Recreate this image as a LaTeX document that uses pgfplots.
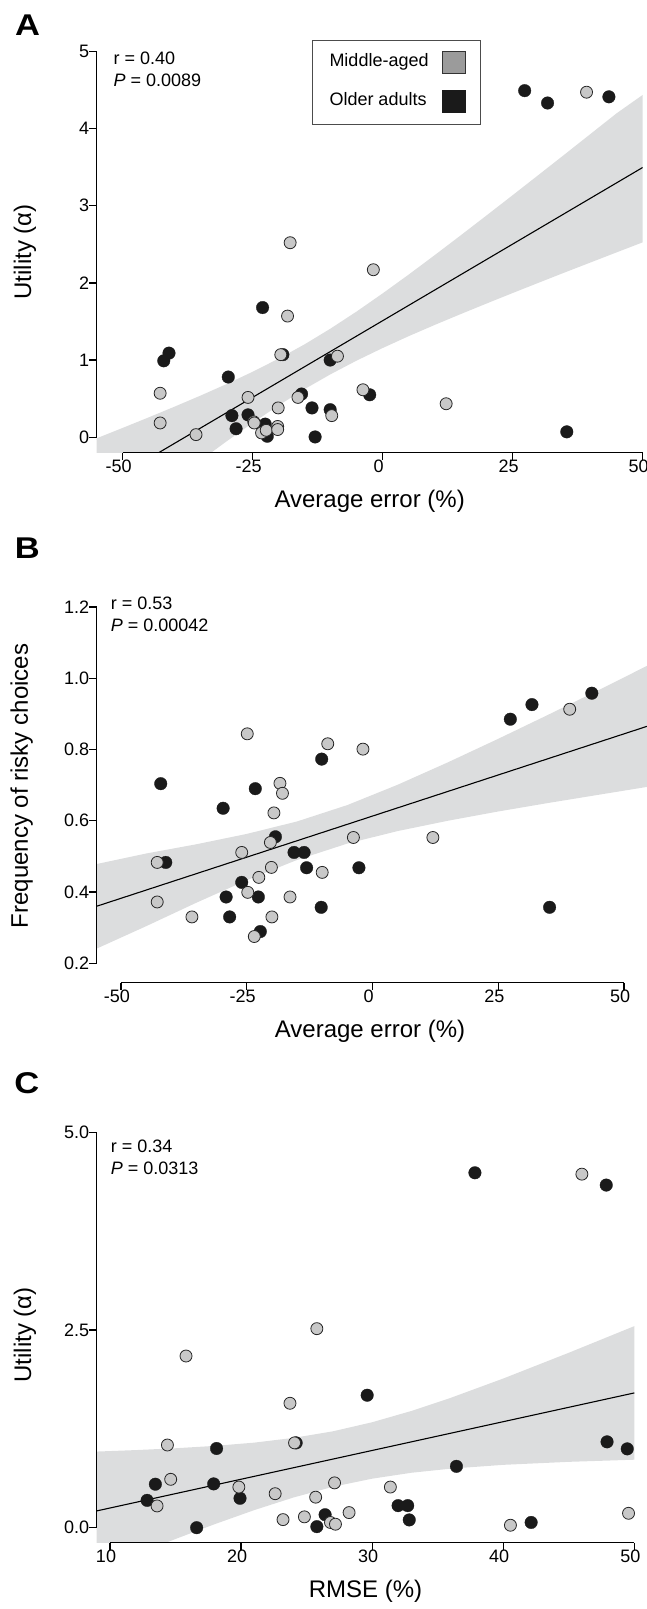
\documentclass[border=0pt]{standalone}
\usepackage{fontspec}
\setmainfont{Liberation Sans}
\usepackage{pgfplots}
\pgfplotsset{compat=1.18}
\definecolor{ptgray}{RGB}{200,200,200}
\definecolor{ptblack}{RGB}{26,26,26}
\definecolor{bandgray}{RGB}{220,221,222}
\definecolor{leggray}{RGB}{155,155,155}
\pgfplotsset{
  panel/.style={
    scale only axis,
    clip mode=individual,
    axis x line*=bottom, axis y line*=left,
    axis line style={draw=none},
    tick align=outside,
    major tick length=7.3pt,
    tick style={black, line width=1.3pt},
    tick label style={font=\fontsize{18}{20}\selectfont},
    xticklabel style={inner sep=0pt, anchor=north, xshift=-4pt},
    yticklabel style={inner sep=0pt, anchor=east},
    minor tick num=0,
  },
  gpts/.style={only marks, mark=*, mark size=6pt, mark options={fill=ptgray, draw=black!85, line width=0.8pt}},
  bpts/.style={only marks, mark=*, mark size=6.3pt, mark options={fill=ptblack, draw=ptblack, line width=0.3pt}},
  band/.style={fill=bandgray, draw=none},
  fit/.style={black, line width=1.1pt},
}
\begin{document}
\begin{tikzpicture}
% ---------------- Panel A ----------------
\begin{axis}[panel, at={(96.7pt,1156.3pt)}, anchor=south west,
  width=546pt, height=401.4pt,
  xmin=-55, xmax=50, ymin=-0.2, ymax=5,
  xtick={-50,-25,0,25,50}, xticklabels={-50,-25,0,25,50},
  ytick={0,1,2,3,4,5}, yticklabels={0,1,2,3,4,5}]
\addplot[band] coordinates {(-55,-0.0135) (-50,0.121) (-45,0.2575) (-40,0.397) (-35,0.5405) (-30,0.690) (-25,0.8485) (-20,1.019) (-15,1.2045) (-10,1.409) (-5,1.6295) (0,1.864) (5,2.1075) (10,2.359) (15,2.6155) (20,2.875) (25,3.1365) (30,3.400) (35,3.6645) (40,3.931) (45,4.1975) (50,4.435)
 (50,2.525) (45,2.3955) (40,2.265) (35,2.1345) (30,2.002) (25,1.8685) (20,1.733) (15,1.5955) (10,1.455) (5,1.3095) (0,1.156) (-5,0.9935) (-10,0.817) (-15,0.6245) (-20,0.413) (-25,0.1865) (-30,-0.052) (-35,-0.2995) (-40,-0.553) (-45,-0.8105) (-50,-1.071) (-55,-1.3335)} -- cycle;
\addplot[fit] coordinates {(-55,-0.6735) (50,3.495)};
\addplot[bpts] coordinates {(-42.1,0.99) (-41.1,1.09) (-29.7,0.78) (-29.0,0.28) (-28.2,0.11) (-25.9,0.29) (-23.1,1.68) (-22.6,0.17) (-22.2,0.013) (-19.2,1.07) (-15.6,0.56) (-13.6,0.38) (-13.0,0.004) (-10.1,1.0) (-10.1,0.357) (-2.5,0.55) (35.4,0.07) (27.3,4.49) (31.7,4.33) (43.5,4.41)};
\addplot[gpts] coordinates {(-42.8,0.57) (-42.8,0.185) (-35.9,0.034) (-25.9,0.516) (-24.8,0.20) (-24.7,0.185) (-23.3,0.056) (-22.4,0.09) (-20.2,0.14) (-20.2,0.10) (-20.1,0.38) (-17.8,2.52) (-18.3,1.57) (-19.6,1.07) (-16.3,0.516) (-8.7,1.05) (-9.8,0.28) (-3.8,0.615) (-1.8,2.17) (12.2,0.434) (39.2,4.47)};
\draw[line width=1.3pt] (axis cs:-55,0) -- (axis cs:-55,5);
\draw[line width=1.3pt] (axis cs:-50,-0.2) -- (axis cs:50,-0.2);
\end{axis}
% ---------------- Panel B ----------------
\begin{axis}[panel, at={(96.7pt,626.3pt)}, anchor=south west,
  width=550.3pt, height=375.7pt,
  xmin=-54.83, xmax=54.57, ymin=0.1454, ymax=1.2,
  xtick={-50,-25,0,25,50}, xticklabels={-50,-25,0,25,50},
  ytick={0.2,0.4,0.6,0.8,1.0,1.2}, yticklabels={0.2,0.4,0.6,0.8,1.0,1.2}]
\addplot[band] coordinates {(-55,0.478) (-45,0.508) (-35,0.534) (-25,0.563) (-15,0.598) (-5,0.644) (5,0.701) (15,0.764) (25,0.830) (35,0.898) (45,0.967) (54.6,1.035)
 (54.6,0.695) (45,0.673) (35,0.650) (25,0.626) (15,0.600) (5,0.571) (-5,0.536) (-15,0.490) (-25,0.433) (-35,0.370) (-45,0.304) (-55,0.240)} -- cycle;
\addplot[fit] coordinates {(-54.83,0.360) (54.57,0.865)};
\addplot[bpts] coordinates {(-42.1,0.704) (-41.1,0.483) (-29.7,0.635) (-29.1,0.386) (-28.4,0.330) (-26.0,0.427) (-23.3,0.690) (-22.7,0.386) (-22.3,0.289) (-19.3,0.555) (-15.6,0.511) (-13.6,0.511) (-13.1,0.468) (-10.1,0.773) (-10.2,0.357) (-2.7,0.468) (27.4,0.885) (31.7,0.926) (35.2,0.357) (43.6,0.958)};
\addplot[gpts] coordinates {(-42.8,0.483) (-42.8,0.372) (-35.9,0.330) (-26.0,0.511) (-24.9,0.844) (-24.8,0.399) (-23.5,0.275) (-22.6,0.441) (-20.3,0.539) (-20.1,0.469) (-20.0,0.330) (-19.6,0.622) (-18.4,0.705) (-17.9,0.677) (-16.4,0.386) (-10.0,0.455) (-8.9,0.816) (-3.8,0.553) (-1.9,0.801) (12.0,0.553) (39.2,0.913)};
\draw[line width=1.3pt] (axis cs:-54.83,0.2) -- (axis cs:-54.83,1.2);
\draw[line width=1.3pt] (axis cs:-50,0.1454) -- (axis cs:50,0.1454);
\end{axis}
% ---------------- Panel C ----------------
\begin{axis}[panel, at={(96.7pt,66.3pt)}, anchor=south west,
  width=537.6pt, height=410.2pt,
  xmin=8.985, xmax=50, ymin=-0.19, ymax=5,
  xtick={10,20,30,40,50}, xticklabels={10,20,30,40,50},
  ytick={0,2.5,5}, yticklabels={0.0,2.5,5.0}]
\addplot[band] coordinates {(8.985,0.963) (12,0.982) (15,1.005) (18,1.035) (21,1.076) (24,1.136) (27,1.219) (30,1.334) (33,1.477) (36,1.643) (40,1.887) (45,2.213) (50,2.550)
 (50,0.860) (45,0.833) (40,0.795) (36,0.747) (33,0.695) (30,0.620) (27,0.517) (24,0.382) (21,0.222) (18,0.045) (15,-0.143) (12,-0.338) (8.985,-0.537)} -- cycle;
\addplot[fit] coordinates {(8.985,0.212) (50,1.705)};
\addplot[bpts] coordinates {(12.83,0.346) (13.46,0.550) (16.61,0.0) (17.91,0.554) (18.13,1.002) (19.92,0.372) (24.20,1.073) (25.78,0.013) (26.41,0.164) (29.62,1.676) (31.98,0.279) (32.71,0.279) (32.83,0.098) (36.43,0.776) (37.84,4.490) (42.13,0.066) (47.86,4.335) (47.92,1.086) (49.46,0.997)};
\addplot[gpts] coordinates {(15.80,2.172) (14.38,1.046) (14.63,0.612) (13.59,0.275) (19.83,0.514) (22.60,0.430) (23.20,0.102) (23.73,1.574) (24.08,1.073) (24.83,0.137) (25.69,0.386) (25.78,2.518) (26.82,0.066) (27.20,0.044) (27.13,0.567) (28.24,0.191) (31.39,0.514) (40.55,0.031) (46.0,4.473) (49.56,0.182)};
\draw[line width=1.3pt] (axis cs:8.985,0) -- (axis cs:8.985,5);
\draw[line width=1.3pt] (axis cs:10,-0.19) -- (axis cs:50,-0.19);
\end{axis}
% ---------------- annotations ----------------
\tikzset{txt/.style={font=\fontsize{18}{20}\selectfont, inner sep=0pt, anchor=base west},
         ttl/.style={font=\fontsize{24}{26}\selectfont, inner sep=0pt},
         lbl/.style={font=\bfseries\fontsize{30}{30}\selectfont, inner sep=0pt}}
\node[lbl] at (27.7pt,1584pt) {\scalebox{1.15}[1]{A}};
\node[lbl] at (27.4pt,1061pt) {\scalebox{1.15}[1]{B}};
\node[lbl] at (26.8pt,525.4pt) {\scalebox{1.15}[1]{C}};
\node[txt] at (113.4pt,1544.3pt) {r = 0.40};
\node[txt] at (113.4pt,1522.6pt) {\textit{P} = 0.0089};
\node[txt] at (110.6pt,999.7pt) {r = 0.53};
\node[txt] at (110.6pt,977.6pt) {\textit{P} = 0.00042};
\node[txt] at (110.6pt,456.8pt) {r = 0.34};
\node[txt] at (110.6pt,434.8pt) {\textit{P} = 0.0313};
\node[ttl] at (369.7pt,1107.3pt) {Average error (\%)};
\node[ttl] at (370pt,577.3pt) {Average error (\%)};
\node[ttl] at (365.5pt,17.3pt) {RMSE (\%)};
\node[ttl, rotate=90] at (25pt,1357pt) {Utility (α)};
\node[ttl, rotate=90] at (21.7pt,823pt) {Frequency of risky choices};
\node[ttl, rotate=90] at (25pt,274pt) {Utility (α)};
% legend
\draw[draw=black!70, line width=1pt] (312.3pt,1568.3pt) rectangle (480pt,1484pt);
\node[txt] at (329.3pt,1542.3pt) {Middle-aged};
\node[txt] at (329.3pt,1503pt) {Older adults};
\draw[fill=leggray, draw=black!80, line width=1pt] (442pt,1557.3pt) rectangle (465pt,1535.7pt);
\draw[fill=ptblack, draw=ptblack, line width=1pt] (442pt,1518.3pt) rectangle (465pt,1496.3pt);
\pgfresetboundingbox
\useasboundingbox (0pt,0pt) rectangle (647pt,1609pt);
\end{tikzpicture}
\end{document}
